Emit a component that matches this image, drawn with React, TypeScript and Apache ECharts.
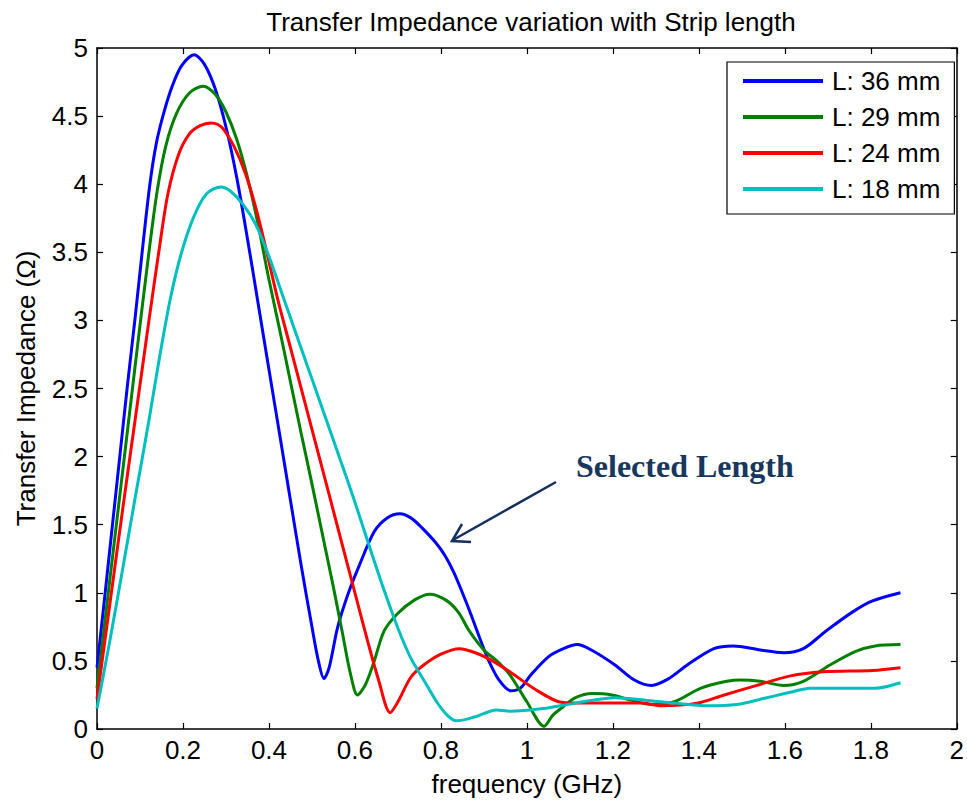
import React, { useEffect, useRef } from "react";
import * as echarts from "echarts";

const seriesNames = ["L: 36 mm", "L: 29 mm", "L: 24 mm", "L: 18 mm"];
const seriesColors = ["#0000FF", "#008000", "#FF0000", "#00BFBF"];

const xTicks = [0, 0.2, 0.4, 0.6, 0.8, 1, 1.2, 1.4, 1.6, 1.8, 2];
const yTicks = [0, 0.5, 1, 1.5, 2, 2.5, 3, 3.5, 4, 4.5, 5];

const blue36: [number, number][] = [
  [0, 0.45], [0.019, 1.0], [0.036, 1.5], [0.053, 2.0], [0.07, 2.5], [0.088, 3.0], [0.105, 3.5],
  [0.123, 4.0], [0.138, 4.3], [0.155, 4.52], [0.175, 4.72], [0.197, 4.87], [0.226, 4.95], [0.25, 4.88],
  [0.275, 4.7], [0.3, 4.42], [0.325, 4.05], [0.35, 3.6], [0.375, 3.12], [0.4, 2.64], [0.425, 2.16],
  [0.45, 1.68], [0.475, 1.2], [0.5, 0.75], [0.515, 0.5], [0.528, 0.37], [0.54, 0.45], [0.56, 0.75],
  [0.585, 1.0], [0.61, 1.2], [0.645, 1.45], [0.675, 1.55], [0.705, 1.58], [0.73, 1.55], [0.755, 1.48],
  [0.79, 1.36], [0.81, 1.27], [0.83, 1.15], [0.85, 1.0], [0.87, 0.84], [0.89, 0.67], [0.91, 0.51],
  [0.935, 0.36], [0.963, 0.28], [0.985, 0.3], [1.01, 0.4], [1.05, 0.53], [1.085, 0.59], [1.117, 0.62],
  [1.15, 0.58], [1.205, 0.47], [1.25, 0.36], [1.29, 0.32], [1.33, 0.37], [1.373, 0.47], [1.435, 0.59],
  [1.48, 0.61], [1.543, 0.58], [1.597, 0.56], [1.643, 0.59], [1.696, 0.72], [1.758, 0.86],
  [1.804, 0.94], [1.869, 1.0],
];

const green29: [number, number][] = [
  [0, 0.3], [0.03, 1.1], [0.06, 1.9], [0.09, 2.7], [0.12, 3.48], [0.14, 3.95], [0.16, 4.28],
  [0.185, 4.52], [0.215, 4.67], [0.247, 4.72], [0.275, 4.66], [0.3, 4.53], [0.325, 4.33], [0.35, 4.05],
  [0.375, 3.7], [0.4, 3.3], [0.425, 2.93], [0.45, 2.55], [0.475, 2.17], [0.5, 1.8], [0.525, 1.42],
  [0.55, 1.04], [0.57, 0.72], [0.59, 0.4], [0.606, 0.25], [0.625, 0.33], [0.645, 0.5], [0.668, 0.72],
  [0.7, 0.85], [0.74, 0.95], [0.774, 0.99], [0.81, 0.95], [0.84, 0.86], [0.866, 0.72], [0.9, 0.58],
  [0.93, 0.5], [0.96, 0.4], [1.0, 0.2], [1.04, 0.02], [1.06, 0.1], [1.083, 0.16], [1.113, 0.23],
  [1.152, 0.26], [1.198, 0.25], [1.244, 0.21], [1.29, 0.18], [1.343, 0.2], [1.405, 0.3], [1.465, 0.35],
  [1.497, 0.36], [1.543, 0.35], [1.597, 0.32], [1.643, 0.35], [1.705, 0.47], [1.765, 0.57],
  [1.81, 0.61], [1.869, 0.62],
];

const red24: [number, number][] = [
  [0, 0.22], [0.03, 0.92], [0.06, 1.62], [0.09, 2.3], [0.12, 2.98], [0.145, 3.53], [0.165, 3.93],
  [0.19, 4.22], [0.215, 4.37], [0.24, 4.43], [0.265, 4.45], [0.28, 4.44], [0.295, 4.4], [0.32, 4.27],
  [0.345, 4.08], [0.37, 3.82], [0.395, 3.5], [0.42, 3.16], [0.45, 2.8], [0.48, 2.44], [0.51, 2.08],
  [0.54, 1.72], [0.57, 1.36], [0.6, 1.0], [0.63, 0.64], [0.655, 0.36], [0.682, 0.12], [0.7, 0.2],
  [0.73, 0.38], [0.76, 0.47], [0.8, 0.55], [0.843, 0.59], [0.88, 0.56], [0.92, 0.5], [0.96, 0.42],
  [1.02, 0.29], [1.074, 0.2], [1.113, 0.19], [1.267, 0.19], [1.313, 0.17], [1.396, 0.19],
  [1.459, 0.25], [1.535, 0.32], [1.613, 0.39], [1.689, 0.42], [1.804, 0.43], [1.869, 0.45],
];

const cyan18: [number, number][] = [
  [0, 0.15], [0.03, 0.65], [0.06, 1.18], [0.09, 1.72], [0.12, 2.25], [0.145, 2.72], [0.17, 3.15],
  [0.195, 3.48], [0.225, 3.76], [0.255, 3.93], [0.288, 3.98], [0.31, 3.95], [0.34, 3.85], [0.37, 3.7],
  [0.4, 3.47], [0.43, 3.2], [0.46, 2.93], [0.49, 2.66], [0.52, 2.39], [0.55, 2.12], [0.58, 1.85],
  [0.61, 1.57], [0.64, 1.28], [0.67, 1.0], [0.7, 0.74], [0.73, 0.52], [0.76, 0.36], [0.79, 0.2],
  [0.815, 0.1], [0.836, 0.06], [0.88, 0.09], [0.929, 0.14], [0.96, 0.13], [1.037, 0.15], [1.113, 0.19],
  [1.205, 0.23], [1.281, 0.21], [1.343, 0.19], [1.42, 0.17], [1.488, 0.18], [1.558, 0.23],
  [1.613, 0.27], [1.659, 0.3], [1.81, 0.3], [1.869, 0.34],
];

const seriesData = [blue36, green29, red24, cyan18];

const FONT = '"Liberation Sans", Arial, sans-serif';

export default function App() {
  const ref = useRef<HTMLDivElement>(null);
  useEffect(() => {
    if (!ref.current) return;
    const chart = echarts.init(ref.current, undefined, { renderer: "svg" });
    const fmt = (v: number) => String(Math.round(v * 10) / 10);
    const axisCommon = {
      axisLine: { show: true, onZero: false, lineStyle: { color: "#000", width: 1.5 } },
      axisTick: { show: true, inside: true, length: 6, lineStyle: { color: "#000", width: 1.2 } },
      splitLine: { show: false },
    };
    chart.setOption({
      animation: false,
      backgroundColor: "#fff",
      title: {
        text: "Transfer Impedance variation with Strip length",
        left: 526,
        textAlign: "center",
        top: 4,
        textStyle: { fontFamily: FONT, fontSize: 26, fontWeight: "normal", color: "#000" },
      },
      grid: { left: 97, right: 2, top: 48, bottom: 71, containLabel: false },
      legend: {
        orient: "vertical",
        left: 727,
        top: 62,
        padding: [6, 14, 12, 16],
        itemGap: 10,
        itemWidth: 80,
        itemHeight: 4,
        icon: "rect",
        borderColor: "#000",
        borderWidth: 1.2,
        backgroundColor: "#fff",
        data: seriesNames,
        textStyle: { fontFamily: FONT, fontSize: 26, color: "#000", padding: [0, 0, 0, 4] },
      },
      xAxis: [
        {
          type: "value",
          min: xTicks[0],
          max: xTicks[xTicks.length - 1],
          interval: 0.2,
          position: "bottom",
          name: "frequency (GHz)",
          nameLocation: "middle",
          nameGap: 42,
          nameTextStyle: { fontFamily: FONT, fontSize: 26, color: "#000" },
          axisLabel: { fontFamily: FONT, fontSize: 26, color: "#000", margin: 8, formatter: fmt },
          ...axisCommon,
        },
        {
          type: "value",
          min: xTicks[0],
          max: xTicks[xTicks.length - 1],
          interval: 0.2,
          position: "top",
          axisLabel: { show: false },
          ...axisCommon,
        },
      ],
      yAxis: [
        {
          type: "value",
          min: yTicks[0],
          max: yTicks[yTicks.length - 1],
          interval: 0.5,
          position: "left",
          name: "Transfer Impedance (Ω)",
          nameLocation: "middle",
          nameGap: 58,
          nameTextStyle: { fontFamily: FONT, fontSize: 26, color: "#000" },
          axisLabel: { fontFamily: FONT, fontSize: 26, color: "#000", margin: 9, formatter: fmt },
          ...axisCommon,
        },
        {
          type: "value",
          min: yTicks[0],
          max: yTicks[yTicks.length - 1],
          interval: 0.5,
          position: "right",
          axisLabel: { show: false },
          ...axisCommon,
        },
      ],
      series: seriesNames.map((name, i) => ({
        name,
        type: "line",
        data: seriesData[i],
        showSymbol: false,
        symbol: "none",
        smooth: 0.3,
        lineStyle: { color: seriesColors[i], width: 3 },
        itemStyle: { color: seriesColors[i] },
        xAxisIndex: 0,
        yAxisIndex: 0,
      })),
      graphic: [
        {
          type: "line",
          shape: { x1: 556, y1: 482, x2: 453, y2: 540 },
          style: { stroke: "#14305E", lineWidth: 2.5 },
        },
        {
          type: "polyline",
          shape: { points: [[462, 524], [452, 541], [471, 542]] },
          style: { stroke: "#14305E", lineWidth: 2.5, fill: "none" },
        },
        {
          type: "text",
          x: 576,
          y: 466,
          style: {
            text: "Selected Length",
            fill: "#17375E",
            font: 'bold 32px "Liberation Serif", "DejaVu Serif", serif',
            verticalAlign: "middle",
          },
        },
      ],
    });
    return () => chart.dispose();
  }, []);
  return <div ref={ref} style={{ width: 967, height: 802, position: "absolute", left: 0, top: 0 }} />;
}
